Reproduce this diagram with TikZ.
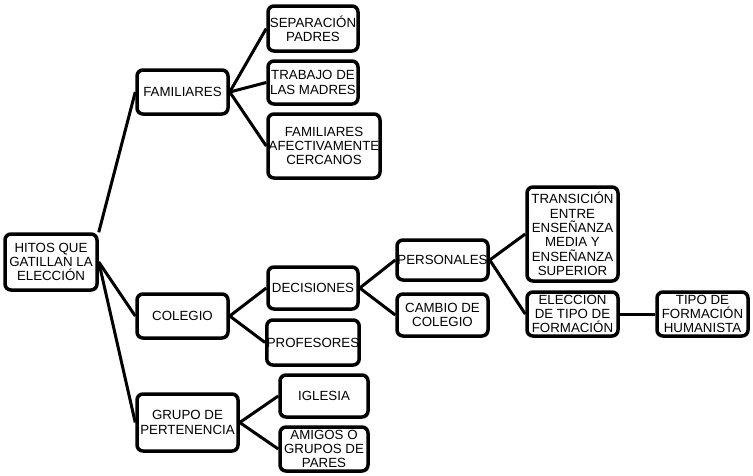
\documentclass[tikz,border=0pt]{standalone}
\usepackage{fontspec}
\setmainfont{Liberation Sans}
\begin{document}
\begin{tikzpicture}[x=1pt,y=-1pt,
  box/.style={draw=black, line width=3.5pt, rounded corners=6pt, fill=white, inner sep=0pt, align=center,
    font=\fontsize{13.3}{14.3}\selectfont},
  link/.style={draw=black, line width=3pt}]
\useasboundingbox (0,0) rectangle (753,475);
\node[box, minimum width=92pt, minimum height=56pt] (root) at (51,262) {HITOS QUE\\GATILLAN LA\\ELECCIÓN};
\node[box, minimum width=91pt, minimum height=44pt] (fam) at (182.5,92) {FAMILIARES};
\node[box, minimum width=90pt, minimum height=45pt] (sep) at (313,28.5) {SEPARACIÓN\\PADRES};
\node[box, minimum width=90pt, minimum height=43pt] (trab) at (313,82.5) {TRABAJO DE\\LAS MADRES};
\node[box, minimum width=112pt, minimum height=64pt] (famaf) at (324,146) {FAMILIARES\\AFECTIVAMENTE\\CERCANOS};
\node[box, minimum width=91pt, minimum height=44pt] (col) at (182.5,316) {COLEGIO};
\node[box, minimum width=90pt, minimum height=42pt] (dec) at (313,288) {DECISIONES};
\node[box, minimum width=90pt, minimum height=45pt] (prof) at (313,342.5) {PROFESORES};
\node[box, minimum width=101pt, minimum height=57pt] (grupo) at (187.5,422.5) {GRUPO DE\\PERTENENCIA};
\node[box, minimum width=88pt, minimum height=42pt] (igl) at (324,396) {IGLESIA};
\node[box, minimum width=88pt, minimum height=44pt] (amig) at (324,449) {AMIGOS O\\GRUPOS DE\\PARES};
\node[box, minimum width=91pt, minimum height=40pt] (pers) at (442.5,260) {PERSONALES};
\node[box, minimum width=91pt, minimum height=42pt] (camb) at (442.5,315) {CAMBIO DE\\COLEGIO};
\node[box, minimum width=91pt, minimum height=94pt] (trans) at (572.5,234) {TRANSICIÓN\\ENTRE\\ENSEÑANZA\\MEDIA Y\\ENSEÑANZA\\SUPERIOR};
\node[box, minimum width=91pt, minimum height=44pt] (elec) at (572.5,314) {ELECCION\\DE TIPO DE\\FORMACIÓN};
\node[box, minimum width=91pt, minimum height=44pt] (tipo) at (702.5,314) {TIPO DE\\FORMACIÓN\\HUMANISTA};
\draw[link] (root.north east) -- (fam.west);
\draw[link] (root.east) -- (col.west);
\draw[link] (root.east) -- (grupo.west);
\draw[link] (fam.east) -- (sep.west);
\draw[link] (fam.east) -- (trab.west);
\draw[link] (fam.east) -- (famaf.west);
\draw[link] (col.east) -- (dec.west);
\draw[link] (col.east) -- (prof.west);
\draw[link] (grupo.east) -- (igl.west);
\draw[link] (grupo.east) -- (amig.west);
\draw[link] (dec.east) -- (pers.west);
\draw[link] (dec.east) -- (camb.west);
\draw[link] (pers.east) -- (trans.west);
\draw[link] (pers.east) -- (elec.west);
\draw[link] (elec.east) -- (tipo.west);
\end{tikzpicture}
\end{document}
